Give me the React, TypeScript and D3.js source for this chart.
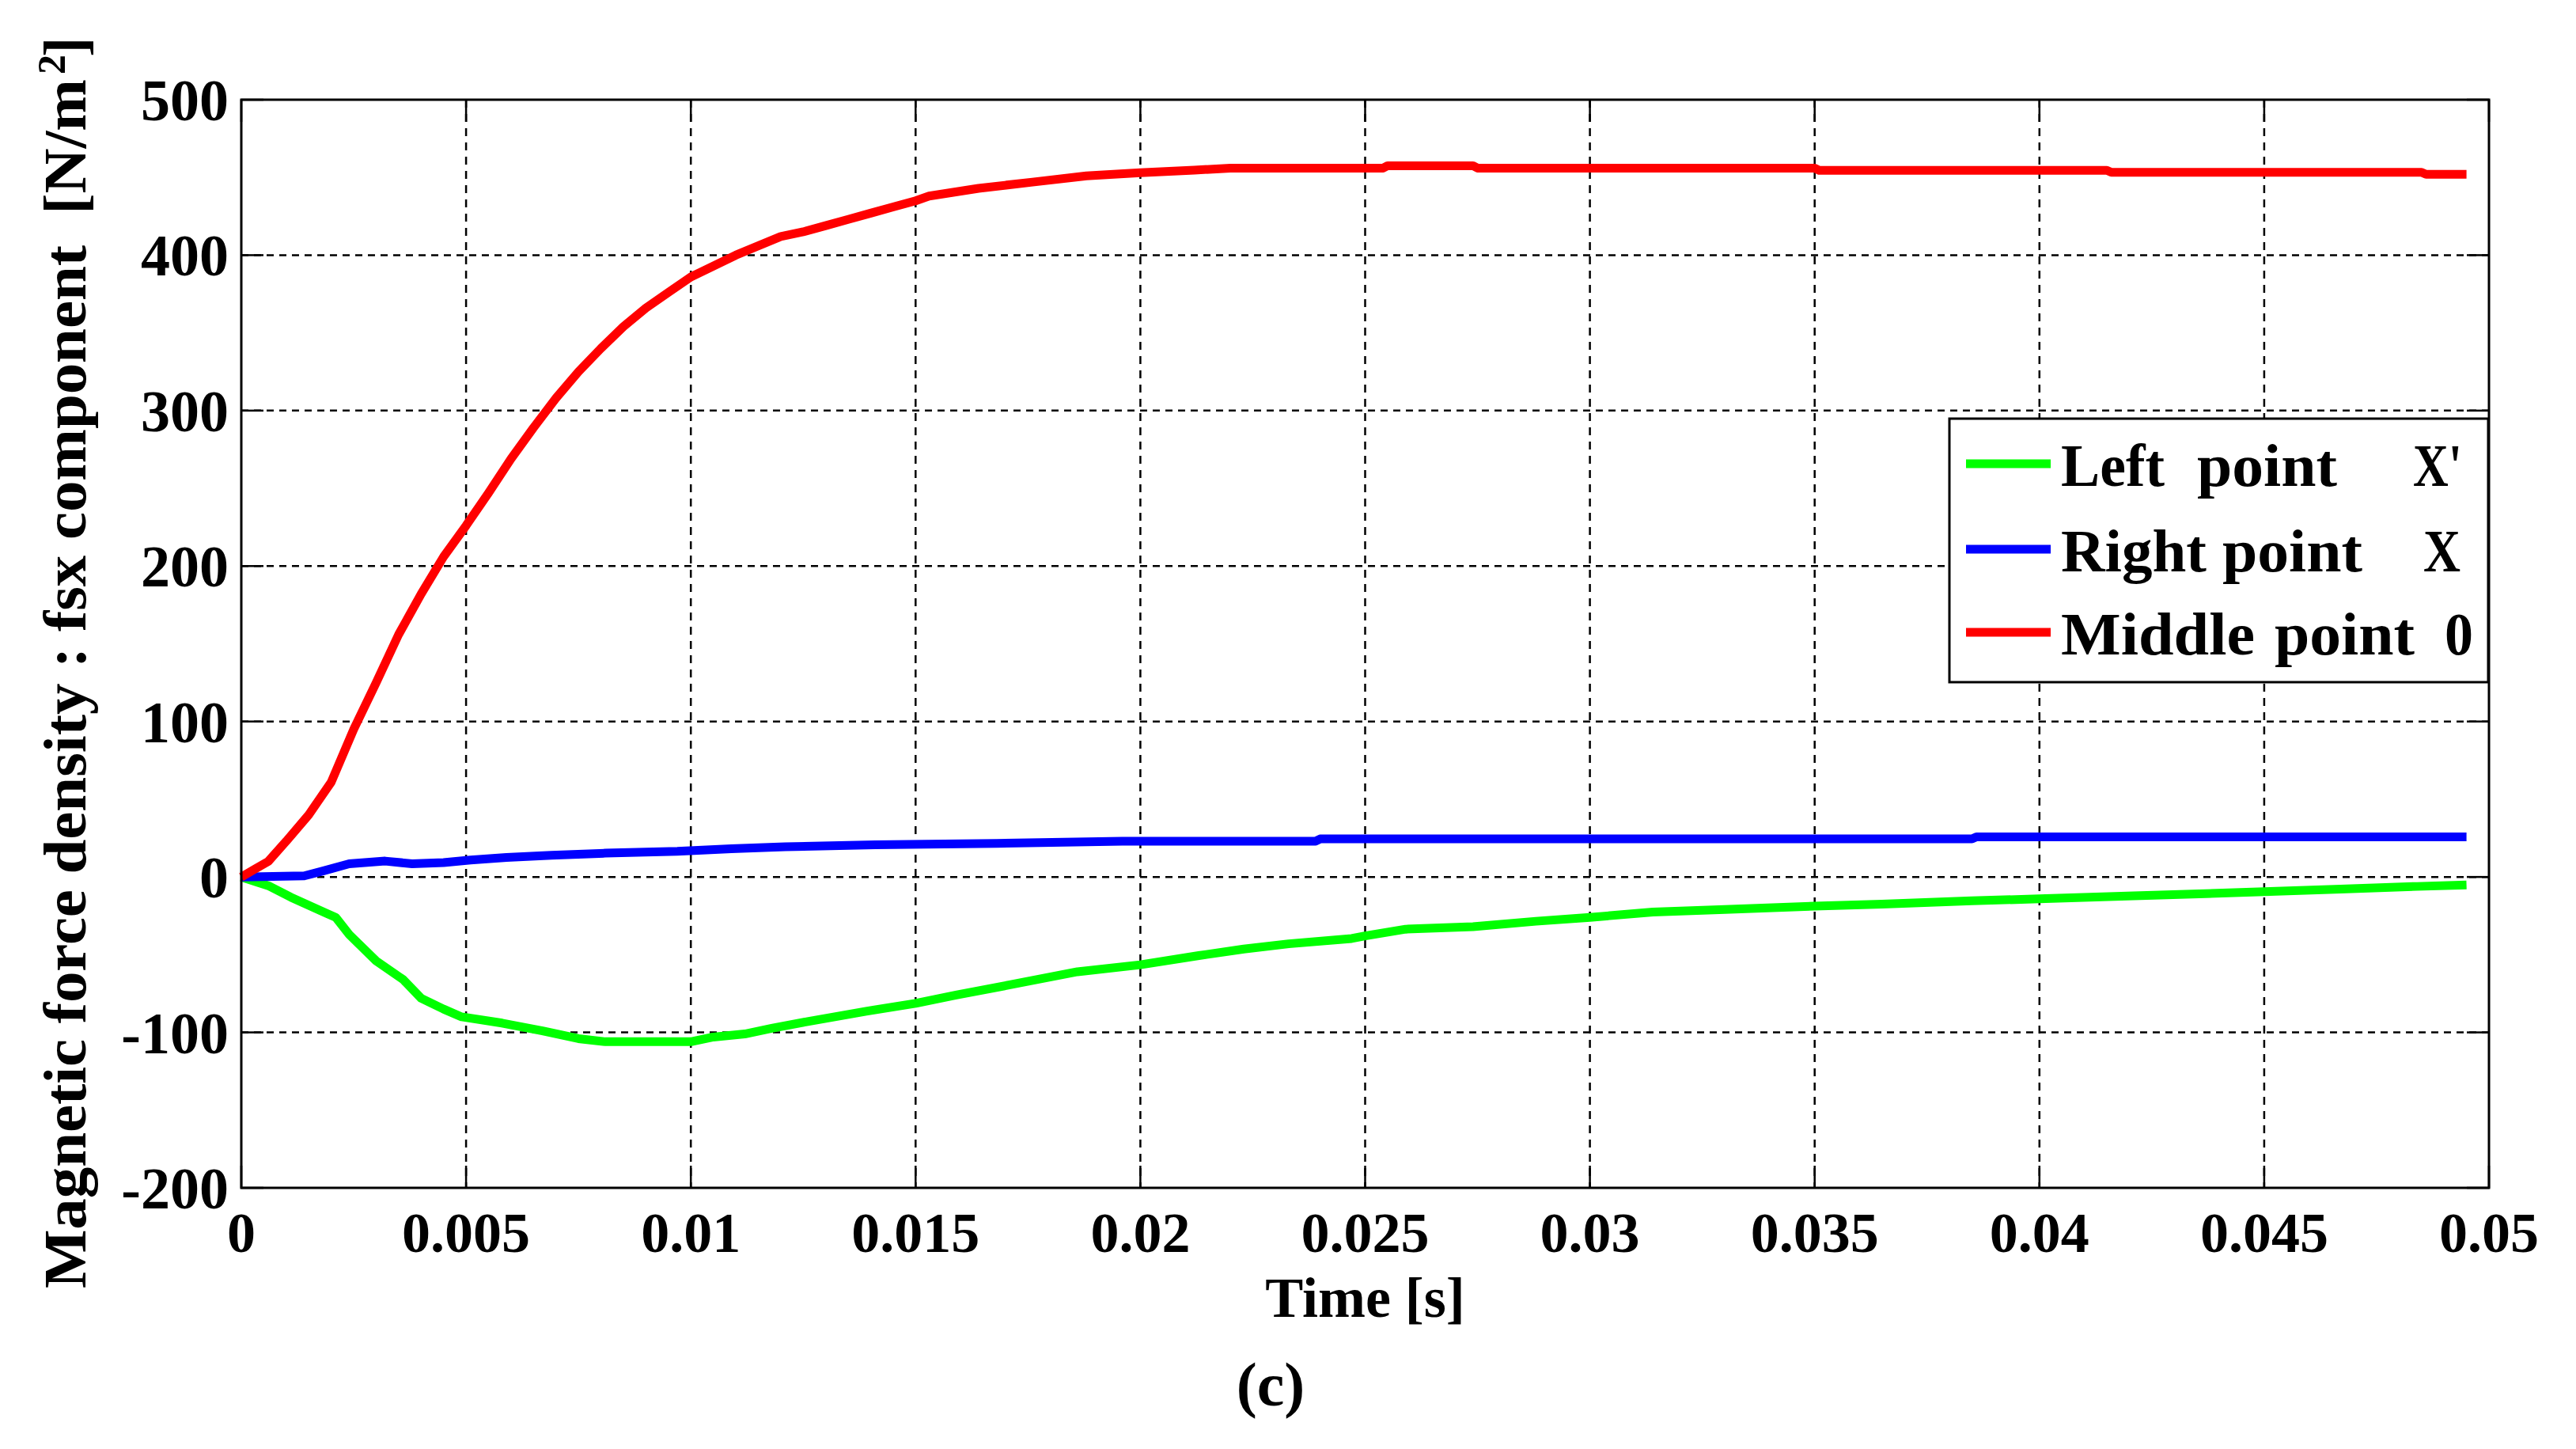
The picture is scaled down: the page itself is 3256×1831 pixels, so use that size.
import * as d3 from "d3";
import { useEffect, useRef } from "react";

// axis ticks
const xTicks = [0, 0.005, 0.01, 0.015, 0.02, 0.025, 0.03, 0.035, 0.04, 0.045, 0.05];
const xTickLabels = ["0", "0.005", "0.01", "0.015", "0.02", "0.025", "0.03", "0.035", "0.04", "0.045", "0.05"];
const yTicks = [-200, -100, 0, 100, 200, 300, 400, 500];
const yTickLabels = ["-200", "-100", "0", "100", "200", "300", "400", "500"];

// Left point X' (green)
const leftTime = [0, 0.0006, 0.0011, 0.0019, 0.0021, 0.0024, 0.003, 0.0036, 0.004, 0.0045, 0.0049, 0.0058, 0.0067, 0.0075, 0.0081, 0.0092, 0.01, 0.0105, 0.0112, 0.0118, 0.0126, 0.0139, 0.015, 0.0159, 0.0171, 0.0186, 0.02, 0.0213, 0.0223, 0.0233, 0.0247, 0.025, 0.0259, 0.0274, 0.0288, 0.03, 0.0314, 0.033, 0.035, 0.0365, 0.0385, 0.04, 0.0421, 0.0437, 0.045, 0.0467, 0.0484, 0.0495];
const leftForce = [0, -5.6, -13, -23.5, -26, -37, -54, -66, -78, -85, -90, -94, -99, -104, -106, -106, -106, -103, -101, -97.4, -93, -86.4, -81.3, -76, -69.4, -61, -56.5, -50.6, -46.4, -43, -39.6, -37.9, -33.6, -32, -28.5, -26, -22.6, -20.9, -18.8, -17.5, -15.3, -14.1, -12.1, -10.7, -9.5, -7.8, -6.1, -5.1];

// Right point X (blue)
const rightTime = [0, 0.0014, 0.0018, 0.0024, 0.0032, 0.0038, 0.0045, 0.0051, 0.0059, 0.0069, 0.0081, 0.0097, 0.0109, 0.0121, 0.0141, 0.0168, 0.0196, 0.0239, 0.024, 0.0385, 0.0386, 0.0495];
const rightForce = [0, 0.7, 3.7, 8.5, 10.2, 8.5, 9.2, 10.9, 12.6, 14, 15.3, 16.5, 18.2, 19.4, 20.7, 21.6, 23, 23, 24.5, 24.5, 25.8, 25.8];

// Middle point 0 (red)
const middleTime = [0, 0.0003, 0.0006, 0.001, 0.0015, 0.002, 0.0025, 0.003, 0.0035, 0.004, 0.0045, 0.005, 0.0055, 0.006, 0.0065, 0.007, 0.0075, 0.008, 0.0085, 0.009, 0.0095, 0.01, 0.0105, 0.011, 0.0115, 0.012, 0.0125, 0.013, 0.0135, 0.014, 0.0145, 0.015, 0.0153, 0.0164, 0.0176, 0.0188, 0.02, 0.0212, 0.022, 0.0254, 0.0255, 0.0274, 0.0275, 0.035, 0.0351, 0.0415, 0.0416, 0.0485, 0.0486, 0.0495];
const middleForce = [0, 5, 10, 23, 40, 61, 95, 125, 156, 182, 206, 226, 247, 269, 289, 308, 325, 340, 354, 366, 376, 386, 393, 400, 406, 412, 415, 419, 423, 427, 431, 435, 438, 443, 447, 451, 453, 454.7, 456, 456, 457.5, 457.5, 456, 456, 454.6, 454.6, 453.3, 453.3, 452, 452];

const legendNames = ["Left", "Right", "Middle"];
const legendSymbols = ["X'", "X", "0"];

const FONT = "'Liberation Serif', 'Times New Roman', serif";

export default function App() {
  const svgRef = useRef<SVGSVGElement | null>(null);
  const width = 3256;
  const height = 1831;

  useEffect(() => {
    if (!svgRef.current) return;
    const margin = { top: 126, right: 110, bottom: 330, left: 305 };
    const innerWidth = width - margin.left - margin.right;
    const innerHeight = height - margin.top - margin.bottom;

    const svg = d3.select(svgRef.current);
    svg.selectAll("*").remove();

    const x = d3.scaleLinear().domain([0, 0.05]).range([0, innerWidth]);
    const y = d3.scaleLinear().domain([-200, 500]).range([innerHeight, 0]);

    const g = svg.append("g").attr("transform", `translate(${margin.left},${margin.top})`);

    // 점선 그리드
    g.selectAll(".gx")
      .data(xTicks.slice(1, -1))
      .enter()
      .append("line")
      .attr("x1", (d) => x(d))
      .attr("x2", (d) => x(d))
      .attr("y1", 0)
      .attr("y2", innerHeight)
      .attr("stroke", "#000")
      .attr("stroke-width", 2.5)
      .attr("stroke-dasharray", "10 8");
    g.selectAll(".gy")
      .data(yTicks.slice(1, -1))
      .enter()
      .append("line")
      .attr("x1", 0)
      .attr("x2", innerWidth)
      .attr("y1", (d) => y(d))
      .attr("y2", (d) => y(d))
      .attr("stroke", "#000")
      .attr("stroke-width", 2.5)
      .attr("stroke-dasharray", "9 7");

    // 안쪽 눈금 (네 변 모두)
    const tl = 28;
    xTicks.forEach((d) => {
      g.append("line").attr("x1", x(d)).attr("x2", x(d)).attr("y1", innerHeight).attr("y2", innerHeight - tl).attr("stroke", "#000").attr("stroke-width", 2.5);
      g.append("line").attr("x1", x(d)).attr("x2", x(d)).attr("y1", 0).attr("y2", tl).attr("stroke", "#000").attr("stroke-width", 2.5);
    });
    yTicks.forEach((d) => {
      g.append("line").attr("x1", 0).attr("x2", tl).attr("y1", y(d)).attr("y2", y(d)).attr("stroke", "#000").attr("stroke-width", 2.5);
      g.append("line").attr("x1", innerWidth).attr("x2", innerWidth - tl).attr("y1", y(d)).attr("y2", y(d)).attr("stroke", "#000").attr("stroke-width", 2.5);
    });

    // 눈금 라벨
    g.selectAll(".xl")
      .data(xTicks)
      .enter()
      .append("text")
      .attr("x", (d) => x(d))
      .attr("y", innerHeight + 81)
      .attr("text-anchor", "middle")
      .attr("font-family", FONT)
      .attr("font-weight", "bold")
      .attr("font-size", 72)
      .text((_, i) => xTickLabels[i]);
    g.selectAll(".yl")
      .data(yTicks)
      .enter()
      .append("text")
      .attr("x", -16)
      .attr("y", (d) => y(d) + 26)
      .attr("text-anchor", "end")
      .attr("font-family", FONT)
      .attr("font-weight", "bold")
      .attr("font-size", 74)
      .text((_, i) => yTickLabels[i]);

    // 곡선
    const curves = [
      { t: leftTime, v: leftForce, color: "#00ff00" },
      { t: rightTime, v: rightForce, color: "#0000ff" },
      { t: middleTime, v: middleForce, color: "#ff0000" },
    ];
    const path = d3
      .line<[number, number]>()
      .x((d) => x(d[0]))
      .y((d) => y(d[1]));
    curves.forEach((c) => {
      const pts = c.t.map((t, i) => [t, c.v[i]] as [number, number]);
      g.append("path")
        .attr("d", path(pts))
        .attr("fill", "none")
        .attr("stroke", c.color)
        .attr("stroke-width", 11)
        .attr("stroke-linejoin", "round");
    });

    // 테두리
    g.append("rect")
      .attr("width", innerWidth)
      .attr("height", innerHeight)
      .attr("fill", "none")
      .attr("stroke", "#000")
      .attr("stroke-width", 3);

    // 범례
    const lg = svg.append("g");
    lg.append("rect")
      .attr("x", 2464)
      .attr("y", 529)
      .attr("width", 681)
      .attr("height", 333)
      .attr("fill", "#fff")
      .attr("stroke", "#000")
      .attr("stroke-width", 3);
    const rows = [586, 694, 799];
    const nameLen = [131, 184, 245];
    const pointX = [2777, 2809, 2875];
    const symX = [3050, 3063, 3090];
    const symLen = [62, 47, 36];
    curves.forEach((c, i) => {
      lg.append("line")
        .attr("x1", 2485)
        .attr("x2", 2592)
        .attr("y1", rows[i])
        .attr("y2", rows[i])
        .attr("stroke", c.color)
        .attr("stroke-width", 11);
      const base = rows[i] + 28;
      [
        { tx: 2605, s: legendNames[i], len: nameLen[i] },
        { tx: pointX[i], s: "point", len: 177 },
        { tx: symX[i], s: legendSymbols[i], len: symLen[i] },
      ].forEach((p) => {
        lg.append("text")
          .attr("x", p.tx)
          .attr("y", base)
          .attr("font-family", FONT)
          .attr("font-weight", "bold")
          .attr("font-size", 76)
          .attr("textLength", p.len)
          .attr("lengthAdjust", "spacingAndGlyphs")
          .text(p.s);
      });
    });

    // 축 제목
    svg.append("text")
      .attr("x", margin.left + innerWidth / 2)
      .attr("y", 1664)
      .attr("text-anchor", "middle")
      .attr("font-family", FONT)
      .attr("font-weight", "bold")
      .attr("font-size", 72)
      .text("Time [s]");

    const yl = svg.append("g").attr("transform", "translate(108,1628) rotate(-90)");
    yl.append("text")
      .attr("x", 0)
      .attr("y", 0)
      .attr("font-family", FONT)
      .attr("font-weight", "bold")
      .attr("font-size", 76)
      .attr("textLength", 1528)
      .attr("lengthAdjust", "spacingAndGlyphs")
      .style("white-space", "pre")
      .text("Magnetic force density : fsx component  [N/m");
    yl.append("text")
      .attr("x", 1534)
      .attr("y", -26)
      .attr("font-family", FONT)
      .attr("font-weight", "bold")
      .attr("font-size", 50)
      .text("2");
    yl.append("text")
      .attr("x", 1556)
      .attr("y", 0)
      .attr("font-family", FONT)
      .attr("font-weight", "bold")
      .attr("font-size", 76)
      .text("]");

    // 패널 라벨
    svg.append("text")
      .attr("x", 1606)
      .attr("y", 1776)
      .attr("text-anchor", "middle")
      .attr("font-family", FONT)
      .attr("font-weight", "bold")
      .attr("font-size", 78)
      .text("(c)");
  }, []);

  return (
    <svg
      ref={svgRef}
      width={width}
      height={height}
      style={{ position: "absolute", left: 0, top: 0, background: "#fff" }}
    />
  );
}
